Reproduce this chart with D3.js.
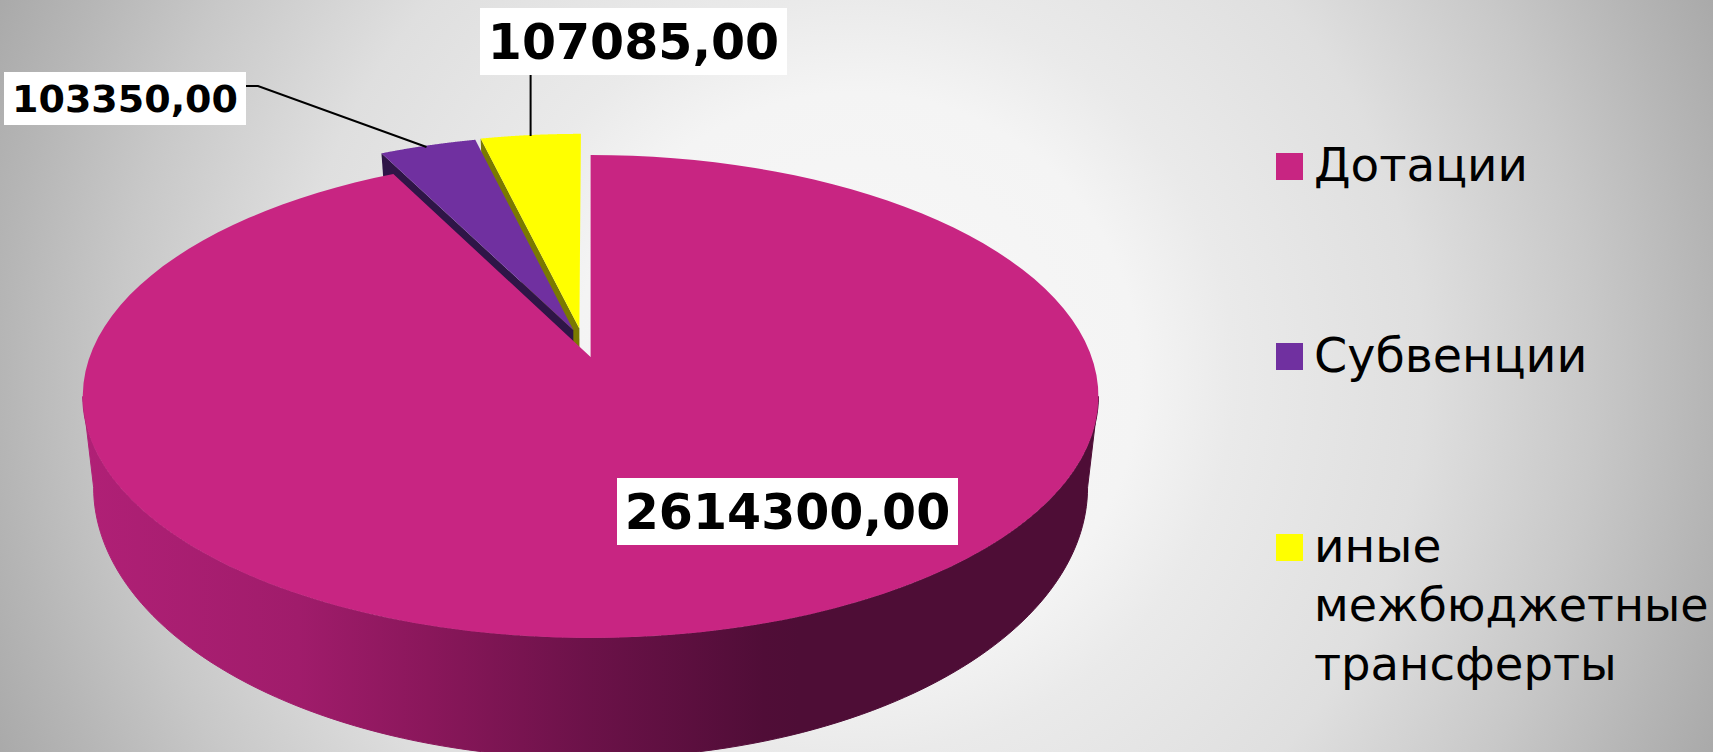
<!DOCTYPE html>
<html>
<head>
<meta charset="utf-8">
<script src="https://cdn.jsdelivr.net/npm/d3@7"></script>
<style>
  html, body { margin: 0; padding: 0; overflow: hidden; }
  svg { display: block; }
  text { font-family: "DejaVu Sans", sans-serif; fill: #000; }
</style>
</head>
<body>
<svg id="grafico"></svg>
<script>
const categorias = ['Дотации', 'Субвенции', 'иные межбюджетные трансферты'];
const valores = [2614300, 103350, 107085];
const rotulos = ['2614300,00', '103350,00', '107085,00'];
const coresFace = ['#c82582', '#7030a0', '#ffff00'];
const coresParede = ['#6e1349', '#2f1547', '#7a7a00'];
const linhasLegenda = [['Дотации'], ['Субвенции'], ['иные', 'межбюджетные', 'трансферты']];
const fontesLegenda = [[46.8], [47.6], [47, 46, 46.5]];

const largura = 1713, altura = 752;
const svg = d3.select('#grafico').attr('width', largura).attr('height', altura);

// fundo
const defs = svg.append('defs');
const fundo = defs.append('radialGradient').attr('id', 'fundo').attr('gradientUnits', 'userSpaceOnUse')
    .attr('cx', 856).attr('cy', 376).attr('r', 945);
[[0, '#f8f8f8'], [0.3, '#f4f4f4'], [0.4, '#eaeaea'], [0.6, '#dfdfdf'], [0.78, '#c8c8c8'], [0.9, '#b6b6b6'], [1, '#a8a8a8']]
    .forEach(s => fundo.append('stop').attr('offset', s[0]).attr('stop-color', s[1]));
svg.append('rect').attr('width', largura).attr('height', altura).attr('fill', 'url(#fundo)');

const parede = defs.append('linearGradient').attr('id', 'parede').attr('gradientUnits', 'userSpaceOnUse')
    .attr('x1', 83).attr('x2', 800).attr('y1', 0).attr('y2', 0);
[[0, '#b02076'], [0.3, '#a01c6b'], [0.48, '#8a175b'], [0.7, '#6c1249'], [0.95, '#500d37'], [1, '#4e0d36']]
    .forEach(s => parede.append('stop').attr('offset', s[0]).attr('stop-color', s[1]));

// projecao em perspectiva do disco unitario (u, v), topo e base da pizza
const cx = 590.6, k = 0.1635;
const topo = { A: 501, B: 235, y0: 357 };
const base = { A: 490.3, B: 263.7, y0: 443 };
const explosao = 0.125;
const ajusteU = [0, 0.008, -0.008];

function projeta(u, v, p) {
  const w = 1 + k * v;
  return [cx + p.A * u / w, p.y0 - p.B * v / w];
}

const pizza = d3.pie().sort(null).value(d => d);
const fatias = pizza(valores);
const linha = d3.line();

function desvio(f, i) {
  if (i === 0) return [0, 0];
  const meio = (f.startAngle + f.endAngle) / 2;
  return [explosao * Math.sin(meio) + ajusteU[i], explosao * Math.cos(meio)];
}

function pontoBorda(a, d, p) {
  return projeta(d[0] + Math.sin(a), d[1] + Math.cos(a), p);
}

function arcoBorda(a0, a1, d, p) {
  return d3.range(0, 121).map(n => pontoBorda(a0 + (a1 - a0) * n / 120, d, p));
}

const plotagem = svg.append('g');

// amarela primeiro, depois roxa, por ultimo a principal
[2, 1].forEach(i => {
  const f = fatias[i], d = desvio(f, i);
  plotagem.append('path')
      .attr('d', linha([projeta(d[0], d[1], topo), pontoBorda(f.startAngle, d, topo),
        pontoBorda(f.startAngle, d, base), projeta(d[0], d[1], base)]) + 'Z')
      .attr('fill', coresParede[i]);
  plotagem.append('path')
      .attr('d', linha([projeta(d[0], d[1], topo)].concat(arcoBorda(f.startAngle, f.endAngle, d, topo))) + 'Z')
      .attr('fill', coresFace[i]);
});

// parede da frente, de um extremo lateral da elipse ao outro
const principal = fatias[0];
const extremo = Math.acos(-k);
const frente = [extremo, 2 * Math.PI - extremo];
plotagem.append('path')
    .attr('d', linha(arcoBorda(frente[0], frente[1], [0, 0], topo)
      .concat(arcoBorda(frente[1], frente[0], [0, 0], base))) + 'Z')
    .attr('fill', 'url(#parede)')
    .attr('stroke', 'url(#parede)')
    .attr('stroke-width', 1);
plotagem.append('path')
    .attr('d', linha([projeta(0, 0, topo)].concat(arcoBorda(principal.startAngle, principal.endAngle, [0, 0], topo))) + 'Z')
    .attr('fill', coresFace[0]);

// linhas de chamada
const chamadas = [[[246, 86], [258, 86], [426.5, 147]], [[530.6, 75], [530.6, 136]]];
chamadas.forEach(c => {
  plotagem.append('path').attr('d', linha(c)).attr('fill', 'none').attr('stroke', '#000').attr('stroke-width', 2);
});

// rotulos de dados
const caixas = [
  { x: 617, y: 478, l: 341, a: 67, fonte: 49 },
  { x: 4, y: 72, l: 242, a: 53, fonte: 38 },
  { x: 480, y: 8, l: 307, a: 67, fonte: 49 }
];
rotulos.forEach((t, i) => {
  const c = caixas[i];
  const g = svg.append('g');
  g.append('rect').attr('x', c.x).attr('y', c.y).attr('width', c.l).attr('height', c.a).attr('fill', '#fff');
  g.append('text').attr('x', c.x + c.l / 2).attr('y', c.y + c.a / 2 + c.fonte * 0.365)
      .attr('text-anchor', 'middle').attr('font-weight', 'bold').attr('font-size', c.fonte).text(t);
});

// legenda
const yQuadro = [153, 343, 534];
const yTexto = [181, 372, 562];
const legenda = svg.append('g');
categorias.forEach((c, i) => {
  legenda.append('rect').attr('x', 1276).attr('y', yQuadro[i]).attr('width', 27).attr('height', 27).attr('fill', coresFace[i]);
  linhasLegenda[i].forEach((t, j) => {
    legenda.append('text').attr('x', 1314).attr('y', yTexto[i] + j * 59).attr('font-size', fontesLegenda[i][j]).text(t);
  });
});
</script>
</body>
</html>
